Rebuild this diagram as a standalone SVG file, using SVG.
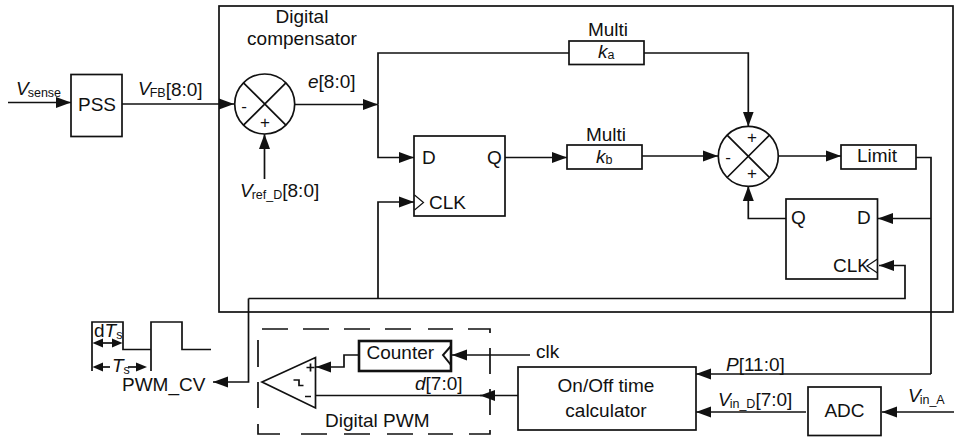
<svg xmlns="http://www.w3.org/2000/svg" width="954" height="437" viewBox="0 0 954 437">
<style>
text{font-family:"Liberation Sans",Arial,sans-serif;font-size:19px;fill:#111}
.m{text-anchor:middle}
.i{font-style:italic}
.s{font-size:12.5px;font-style:normal}
.r{font-style:normal}
.g{font-size:17px}
.b{fill:#fff;stroke:#111;stroke-width:1.7}
.n{fill:none;stroke:#111;stroke-width:1.7}
.c{fill:none;stroke:#111;stroke-width:1.7}
.a{marker-end:url(#ar)}
.p{fill:none;stroke:#111;stroke-width:1.2}
</style>
<defs>
<marker id="ar" markerUnits="userSpaceOnUse" markerWidth="16" markerHeight="14" refX="15" refY="7" orient="auto"><path d="M0 1.500L15 7L0 12.500Z" fill="#111"/></marker>
</defs>
<g id="compensator"><rect class="n" x="219" y="6" width="734" height="306"/>
<text class="m" x="302" y="23">Digital</text><text class="m" x="302" y="45">compensator</text></g>
<g id="connectors">
<path class="c a" d="M8 102.500H71"/>
<path class="c a" d="M122 104H234"/>
<path class="c a" d="M264.500 179V134"/>
<path class="c a" d="M295 104.500H378"/>
<path class="c" d="M378 104.500V53H569"/>
<path class="c a" d="M378 104.500V157.500H414"/>
<path class="c a" d="M644 53H748.300V126.500"/>
<path class="c a" d="M505 157.500H567"/>
<path class="c a" d="M642 156H718"/>
<path class="c a" d="M779 156H841"/>
<path class="c" d="M916 157.500H931V374"/>
<path class="c a" d="M931 218.500H878"/>
<path class="c a" d="M786 218.500H748.300V186"/>
<path class="c a" d="M248.500 298.500H905V265.500H879"/>
<path class="c a" d="M378 298.500V202H414"/>
<path class="c a" d="M248.500 298.500V382H213"/>
<path class="c a" d="M931 374H696"/>
<path class="c a" d="M806 412H696"/>
<path class="c a" d="M954 412H882"/>
<path class="c a" d="M518 395.500H480"/>
<path class="c" d="M482 395.500H316"/>
<path class="c a" d="M530 355H452"/>
<path class="c a" d="M359 355H344V367H316"/>
</g>
<g id="pss"><rect class="b" x="71" y="74.500" width="51" height="62"/><text x="78" y="111">PSS</text></g>
<g id="sum1"><circle class="b" cx="264.700" cy="104" r="30"/><path class="n" d="M243.500 82.800L285.900 125.200M285.900 82.800L243.500 125.200"/>
<text class="m g" x="244" y="112">-</text><text class="m g" x="265" y="128">+</text></g>
<g id="ka"><rect class="b" x="569" y="41" width="75" height="23.500"/><text class="m" x="608" y="35.500">Multi</text><text x="598" y="58" class="i">k<tspan class="s" dy="1">a</tspan></text></g>
<g id="kb"><rect class="b" x="567" y="145" width="75" height="24"/><text class="m" x="606" y="140.500">Multi</text><text x="596" y="162.500" class="i">k<tspan class="s" dy="1">b</tspan></text></g>
<g id="ff1"><rect class="b" x="414" y="136" width="91" height="80"/><path class="p" d="M414.500 195L423.500 202.500L414.500 210"/>
<text x="422" y="164">D</text><text x="487" y="164">Q</text><text x="429" y="208.500">CLK</text></g>
<g id="sum2"><circle class="b" cx="748.300" cy="156.300" r="30"/><path class="n" d="M727.100 135.100L769.500 177.500M769.500 135.100L727.100 177.500"/>
<text class="m g" x="752" y="143">+</text><text class="m g" x="728" y="163">-</text><text class="m g" x="752" y="179">+</text></g>
<g id="limit"><rect class="b" x="841" y="145" width="75" height="24"/><text x="857" y="162">Limit</text></g>
<g id="ff2"><rect class="b" x="786" y="199" width="91.500" height="80"/><path class="p" d="M877.500 259L867 266L877.500 273"/>
<text x="791" y="224">Q</text><text x="857" y="224">D</text><text x="833" y="272">CLK</text></g>
<g id="digital-pwm"><path class="n" d="M262 329H288M303 329H329M344 329H370M385 329H411M428 329H453M468 329H490V333M490 348V374M490 389V415M490 430V434H469M453 434H428M413 434H387M370 434H344M327 434H301M280 434H258V424M258 408V382M258 367V340"/><text x="325" y="427">Digital PWM</text></g>
<g id="comparator"><path class="b" d="M262 382L315.500 357.500V408Z"/><path class="n" d="M293.500 380H299V385.500H303.500"/>
<path class="n" d="M306.500 367.500H314.500M310.500 363.500V371.500M305 396.500H311"/></g>
<g id="counter"><rect class="b" style="stroke-width:2.600" x="359" y="341" width="92" height="30"/><path class="n" style="stroke-width:2" d="M451 346L443 355L451 365"/><text x="366.500" y="359">Counter</text></g>
<g id="calculator"><rect class="b" x="518" y="367" width="178" height="63"/><text class="m" x="606" y="392">On/Off time</text><text class="m" x="606" y="417">calculator</text></g>
<g id="adc"><rect class="b" x="808" y="387" width="73" height="48.500"/><text class="m" x="844.500" y="417">ADC</text></g>
<g id="waveform"><path class="n" d="M92 371V322H123V349.500H151V322H182V349.500H211M151 349.500V371"/>
<path class="c" d="M100 343H115"/><path fill="#111" d="M92.500 343L103 338.500V347.500Z"/><path fill="#111" d="M122.500 343L112 338.500V347.500Z"/>
<path class="c" d="M100 367H110"/><path fill="#111" d="M92.500 367L103 362.500V371.500Z"/><path class="c" d="M128 367H140"/><path fill="#111" d="M147 367L136 362.500V371.500Z"/>
<text x="94" y="337">d<tspan class="i">T</tspan><tspan class="s" dy="2">s</tspan></text>
<text x="112" y="372" class="i">T<tspan class="s" dy="2">s</tspan></text>
<text x="122" y="391">PWM_CV</text></g>
<g id="labels">
<text x="16" y="94.500" class="i">V<tspan class="s" dx="-1" dy="2">sense</tspan></text>
<text x="138" y="95" class="i">V<tspan class="s" dx="-1" dy="2">FB</tspan><tspan class="r" dy="-1">[8:0]</tspan></text>
<text x="308" y="88"><tspan class="i">e</tspan>[8:0]</text>
<text x="240" y="197" class="i">V<tspan class="s" dx="-1" dy="2">ref_D</tspan><tspan class="r" dy="-2">[8:0]</tspan></text>
<text x="536" y="358">clk</text>
<text x="415" y="390"><tspan class="i">d</tspan>[7:0]</text>
<text x="726" y="370.500"><tspan class="i">P</tspan>[11:0]</text>
<text x="718" y="406" class="i">V<tspan class="s" dx="-1" dy="2">in_D</tspan><tspan class="r" dy="-2">[7:0]</tspan></text>
<text x="908" y="402" class="i">V<tspan class="s" dx="-1" dy="2">in_A</tspan></text>
</g>
</svg>
